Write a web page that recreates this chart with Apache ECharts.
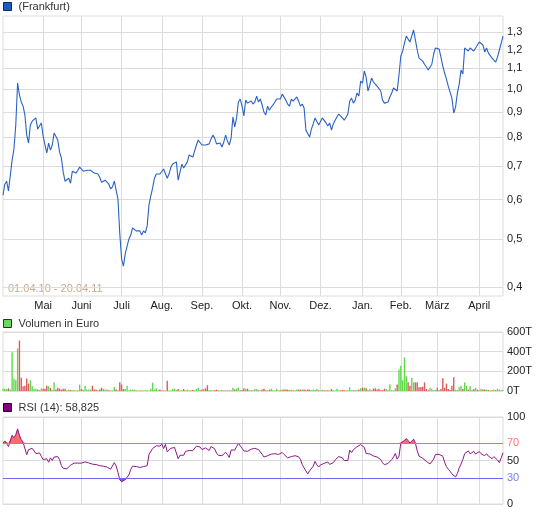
<!DOCTYPE html>
<html>
<head>
<meta charset="utf-8">
<script src="https://cdn.jsdelivr.net/npm/echarts@6/dist/echarts.min.js"></script>
<style>
  html, body { margin: 0; padding: 0; background: #fff; }
  #chart { width: 545px; height: 515px; }
</style>
</head>
<body>
<div id="chart"></div>
<script>
// Schlusskurse (Frankfurt), ein Wert je Handelstag 01.04.10 - 20.04.11
var kurs = [
  0.612,0.644,0.653,0.624,0.627,0.720,0.758,0.847,1.028,0.973,
  0.942,0.924,0.887,0.808,0.779,0.847,0.862,0.862,0.875,0.831,
  0.835,0.855,0.805,0.772,0.744,0.779,0.754,0.772,0.816,0.812,
  0.790,0.747,0.727,0.681,0.653,0.653,0.662,0.647,0.684,0.678,
  0.678,0.687,0.697,0.691,0.684,0.687,0.687,0.687,0.687,0.681,
  0.678,0.675,0.675,0.665,0.650,0.653,0.656,0.656,0.644,0.630,
  0.636,0.653,0.647,0.601,0.512,0.456,0.441,0.467,0.469,0.500,
  0.509,0.526,0.526,0.519,0.521,0.519,0.509,0.519,0.514,0.531,
  0.585,0.610,0.633,0.662,0.675,0.681,0.675,0.672,0.691,0.694,
  0.662,0.675,0.697,0.707,0.710,0.714,0.656,0.681,0.707,0.694,
  0.697,0.714,0.737,0.734,0.730,0.734,0.772,0.790,0.786,0.772,
  0.776,0.772,0.768,0.776,0.794,0.808,0.797,0.776,0.772,0.779,
  0.765,0.783,0.808,0.786,0.772,0.797,0.879,0.839,0.875,0.942,
  0.955,0.924,0.883,0.950,0.937,0.942,0.946,0.933,0.942,0.968,
  0.942,0.955,0.929,0.899,0.887,0.924,0.907,0.920,0.929,0.929,
  0.955,0.959,0.955,0.977,0.973,0.950,0.933,0.924,0.955,0.946,
  0.950,0.964,0.946,0.924,0.933,0.916,0.827,0.820,0.801,0.831,
  0.851,0.875,0.875,0.847,0.847,0.875,0.871,0.855,0.843,0.855,
  0.827,0.851,0.866,0.879,0.891,0.883,0.875,0.866,0.866,0.891,
  0.946,0.959,0.937,0.950,0.982,0.968,1.038,1.028,1.087,1.057,
  0.991,1.019,1.052,1.033,1.028,1.014,1.009,0.991,0.950,0.937,
  0.937,0.942,0.964,0.982,1.005,1.014,0.991,1.067,1.165,1.192,
  1.237,1.278,1.260,1.243,1.254,1.314,1.254,1.198,1.154,1.149,
  1.138,1.122,1.107,1.092,1.102,1.122,1.176,1.209,1.198,1.203,
  1.159,1.112,1.077,1.047,1.014,1.009,0.959,0.895,0.920,0.982,
  1.023,1.092,1.072,1.209,1.214,1.192,1.209,1.220,1.192,1.209,
  1.198,1.243,1.243,1.226,1.187,1.209,1.181,1.181,1.154,1.159,
  1.133,1.159,1.198,1.237,1.278
];

// Umsatz in T (Tausend Euro)
var volumen = [
  24,24,20,27,15,394,126,109,432,513,
  136,48,54,126,75,109,48,20,24,14,
  10,27,24,24,54,48,31,10,88,14,
  34,24,14,24,24,8,14,10,6,7,
  6,8,65,20,8,54,14,14,14,54,
  14,14,8,14,34,20,14,14,7,5,
  6,41,14,6,88,65,20,20,54,6,
  14,14,14,6,5,6,5,6,5,7,
  6,24,85,14,27,8,14,6,8,5,
  105,6,6,24,24,10,20,8,6,20,
  6,14,8,6,10,8,20,34,8,14,
  20,27,58,8,10,6,8,14,6,5,
  8,6,8,5,6,8,34,14,24,34,
  8,10,27,24,24,8,10,6,20,20,
  8,6,14,24,8,6,14,24,8,6,
  24,6,8,14,14,14,14,6,14,8,
  6,14,14,14,14,14,8,14,14,8,
  14,10,24,8,6,14,8,6,8,6,
  20,8,6,24,8,6,10,8,6,8,
  37,8,6,10,8,14,27,34,34,27,
  8,24,8,24,27,14,24,8,10,24,
  20,10,68,8,6,27,65,218,258,109,
  340,150,88,54,133,88,88,88,37,41,
  44,88,20,8,34,24,8,10,34,10,
  20,129,34,75,20,10,54,139,14,10,
  37,54,20,88,54,14,48,10,20,34,
  14,8,24,14,14,14,10,8,7,14,
  8,24,14,7,10
];

// RSI (14)
var rsi = [
  70,72.5,72,66,68,79,76,79.8,86.4,79,
  74,71,70,56.7,62.4,61,64,61,58,56.7,
  58.7,54.8,51,49,52,48,53,50,54,53.5,
  54.5,51,44,41,40,40.5,41,44.5,45,47,
  47,47,47.5,47,47,48.4,47,47.2,47,45.8,
  45.2,45.3,45.5,44,42,43.5,43,42.5,42.5,40,
  38.9,47.6,43.8,36.2,28,25.5,23.5,28,29,33.5,
  39.8,43.5,42.8,43,43,42,43.8,43,43.3,44,
  57,58.9,63.8,66,67,67,66.5,68.9,63.8,68.5,
  60,62,64,62.5,65,63,52,56,57.5,56,
  60.5,60,61.5,62,61.3,63,66.5,67.3,65.5,62.5,
  64.5,64.5,63.5,61.5,66,66,63.5,58.5,56,57.5,
  55.5,56,59.5,56.8,53.5,62,64,62,66,69.5,
  69.5,64,61,62,60.5,62,63,64.2,64,62.5,
  62.5,60.5,57.2,54,56,55.5,56,57.3,56.3,57.8,
  58.5,57,56.5,59.3,57,55.5,53,51.5,54.5,55,
  55.5,55.5,54.3,51.3,45.2,47,38,34.6,38,37,
  43.5,49,45,42.5,45,46.5,46.7,46.3,48.3,45.5,
  43.5,47.5,50.5,52.5,54.5,53,53,50,49,50,
  62,59,62.4,60.7,65.8,64.5,68.3,68.6,65,58,
  56,57.6,57.2,55.2,54,54,55.5,51,47.5,45.2,
  45.2,46.6,48.5,51,54,58,51.5,55,70,71.8,
  73,75.3,73,70,72,74.5,70,61,55,53.6,
  52.5,51,49,47,46,48,51.5,57,56,57,
  57,55,48,43,40,37.7,34.6,33.7,31,35,
  41.5,46,51,58,59,61,57.6,59.8,60.5,57.5,
  59,60.3,57.7,58.6,55.5,57.8,55,56,52,54.5,
  53.3,50.5,47.5,53,58.825
];

var kursTicks = [0.4, 0.5, 0.6, 0.7, 0.8, 0.9, 1.0, 1.1, 1.2, 1.3];
var rsiLabels = [0, 30, 50, 70, 100];
var rsiGrid = [0, 50, 100];
var monate = ['Jan.', 'Feb.', 'März', 'April', 'Mai', 'Juni', 'Juli', 'Aug.', 'Sep.', 'Okt.', 'Nov.', 'Dez.'];

// Handelstage Mo-Fr
var tage = [];
var d = new Date(2010, 3, 1);
var ende = new Date(2011, 3, 20);
while (d <= ende) {
  if (d.getDay() !== 0 && d.getDay() !== 6) tage.push(new Date(d));
  d.setDate(d.getDate() + 1);
}
var kategorien = tage.map(function (t) {
  return t.getFullYear() + '-' + (t.getMonth() + 1) + '-' + t.getDate();
});

function monatsAnfang(i) {
  return i > 0 && tage[i].getMonth() !== tage[i - 1].getMonth();
}

var gitter = '#dcdcdc';
var schrift = 'Liberation Sans, Arial, sans-serif';

function xAchse(idx, mitLabel) {
  return {
    type: 'category',
    gridIndex: idx,
    data: kategorien,
    boundaryGap: false,
    axisLine: { show: false },
    axisTick: { show: false },
    axisLabel: {
      show: mitLabel,
      interval: function (i) { return monatsAnfang(i); },
      formatter: function (v, i) { return monate[tage[i].getMonth()]; },
      color: '#222',
      fontSize: 11,
      margin: 4
    },
    splitLine: {
      show: true,
      interval: function (i) { return monatsAnfang(i); },
      lineStyle: { color: gitter, width: 1 }
    }
  };
}

function legende(top, name, farbe, rand) {
  return {
    left: 3, top: top, padding: 0, itemWidth: 8, itemHeight: 8, selectedMode: false,
    textStyle: { fontSize: 11, color: '#333', padding: [0, 0, 0, 2] },
    data: [{ name: name, icon: 'rect', itemStyle: { color: farbe, borderColor: rand, borderWidth: 1 } }]
  };
}

var volDaten = volumen.map(function (v, i) {
  var rauf = i === 0 || kurs[i] >= kurs[i - 1];
  return { value: v, itemStyle: { color: rauf ? '#5fd94c' : '#e05a5a' } };
});

var rsiHoch = rsi.map(function (v) { return Math.max(v, 70); });
var rsiTief = rsi.map(function (v) { return Math.min(v, 30); });

var chart = echarts.init(document.getElementById('chart'));
chart.setOption({
  animation: false,
  textStyle: { fontFamily: schrift },
  legend: [
    legende(1, '(Frankfurt)', '#1f5bbf', '#0e2a5e'),
    legende(318, 'Volumen in Euro', '#6ad85c', '#1e3a1a'),
    legende(402, 'RSI (14): 58,825', '#800080', '#2a002a')
  ],
  graphic: [
    {
      type: 'text', left: 8, top: 283, silent: true,
      style: { text: '01.04.10 - 20.04.11', fill: '#c4ab8c', font: '11px ' + schrift }
    }
  ],
  grid: [
    { left: 3, right: 42, top: 16, height: 280, show: true, borderColor: gitter, borderWidth: 1 },
    { left: 3, right: 42, top: 332, height: 59, show: true, borderColor: gitter, borderWidth: 1 },
    { left: 3, right: 42, top: 417, height: 87, show: true, borderColor: gitter, borderWidth: 1 }
  ],
  xAxis: [xAchse(0, true), xAchse(1, false), xAchse(2, false)],
  yAxis: [
    {
      type: 'log', logBase: 10, gridIndex: 0, min: 0.384, max: 1.402, position: 'right',
      axisLine: { show: false },
      axisTick: { show: false, customValues: kursTicks },
      axisLabel: {
        customValues: kursTicks, color: '#222', fontSize: 11, margin: 4,
        formatter: function (v) { return Number(v).toFixed(1).replace('.', ','); }
      },
      splitLine: { show: true, lineStyle: { color: gitter } }
    },
    {
      type: 'value', gridIndex: 1, min: 0, max: 600, interval: 200, position: 'right',
      axisLine: { show: false },
      axisTick: { show: false },
      axisLabel: { color: '#222', fontSize: 11, margin: 4, formatter: '{value}T' },
      splitLine: { show: true, lineStyle: { color: gitter } }
    },
    {
      type: 'value', gridIndex: 2, min: 0, max: 100, position: 'right',
      axisLine: { show: false },
      axisTick: { show: false, customValues: rsiGrid },
      axisLabel: {
        customValues: rsiLabels, fontSize: 11, margin: 4,
        color: function (v) {
          v = Number(v);
          if (v === 70) return '#ff7272';
          if (v === 30) return '#7a7aff';
          return '#222';
        }
      },
      splitLine: { show: true, lineStyle: { color: gitter } }
    }
  ],
  series: [
    {
      name: '(Frankfurt)', type: 'line', xAxisIndex: 0, yAxisIndex: 0,
      data: kurs, showSymbol: false, symbol: 'none',
      lineStyle: { color: '#2b62c2', width: 1.1 }
    },
    {
      name: 'Volumen in Euro', type: 'bar', xAxisIndex: 1, yAxisIndex: 1,
      data: volDaten, barWidth: 1.4
    },
    {
      name: 'rsiHoch', type: 'line', xAxisIndex: 2, yAxisIndex: 2,
      data: rsiHoch, symbol: 'none', silent: true,
      lineStyle: { width: 0 },
      areaStyle: { origin: 70, color: '#ff6a6a', opacity: 1 }
    },
    {
      name: 'rsiTief', type: 'line', xAxisIndex: 2, yAxisIndex: 2,
      data: rsiTief, symbol: 'none', silent: true,
      lineStyle: { width: 0 },
      areaStyle: { origin: 30, color: '#6a6af0', opacity: 1 }
    },
    {
      name: 'RSI (14): 58,825', type: 'line', xAxisIndex: 2, yAxisIndex: 2,
      data: rsi, symbol: 'none',
      lineStyle: { color: '#8a1a8a', width: 1 },
      markLine: {
        silent: true, symbol: 'none', label: { show: false },
        data: [
          { yAxis: 70, lineStyle: { color: '#ff6666', type: 'solid', width: 1 } },
          { yAxis: 30, lineStyle: { color: '#6a6aee', type: 'solid', width: 1 } }
        ]
      }
    }
  ]
});
</script>
</body>
</html>
